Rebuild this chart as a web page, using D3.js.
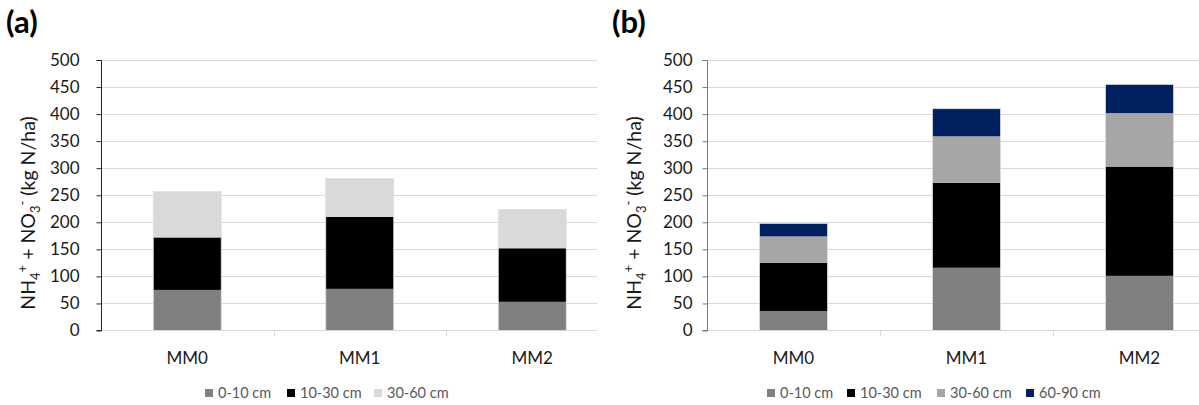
<!DOCTYPE html>
<html>
<head>
<meta charset="utf-8">
<script src="https://cdn.jsdelivr.net/npm/d3@7"></script>
<style>
  body { margin: 0; background: #fff; }
  svg { display: block; font-family: Lato, "Liberation Sans", sans-serif; }
</style>
</head>
<body>
<div class="chart-box"></div>
<script>
// ---------------------------//
//            DATA            //
// ---------------------------//
const categories = ["MM0", "MM1", "MM2"];
const yTicks = [0, 50, 100, 150, 200, 250, 300, 350, 400, 450, 500];

// panel (a)
const layersA = ["0-10 cm", "10-30 cm", "30-60 cm"];
const depth0_10_A  = [75, 77, 53];
const depth10_30_A = [97, 133, 99];
const depth30_60_A = [85, 71, 72];

// panel (b)
const layersB = ["0-10 cm", "10-30 cm", "30-60 cm", "60-90 cm"];
const depth0_10_B  = [36, 116, 101];
const depth10_30_B = [89, 157, 202];
const depth30_60_B = [49, 86, 99];
const depth60_90_B = [24, 51, 53];

const WIDTH = 1199, HEIGHT = 405;

const svg = d3.select(".chart-box").append("svg")
    .attr("width", WIDTH)
    .attr("height", HEIGHT);

const rows = (layers, series) => categories.map((c, i) => {
    let r = {cat: c};
    layers.forEach((l, j) => r[l] = series[j][i]);
    return r;
});

// ---------------------------//
//         DRAW PANEL         //
// ---------------------------//
var drawPanel = function(opt)
{
    const g = svg.append("g");

    const y = d3.scaleLinear().domain([0, 500]).range([330.5, 60]);
    const x = d3.scaleBand()
        .domain(categories)
        .range([opt.axisX, opt.axisX + 3 * opt.step])
        .paddingInner(0.606)
        .paddingOuter(0.303);

    // clip so grid stops where the panel stops
    const clipId = "clip" + opt.label.replace(/\W/g, "");
    svg.append("clipPath").attr("id", clipId)
        .append("rect")
        .attr("x", opt.axisX).attr("y", 0)
        .attr("width", opt.rightEdge - opt.axisX).attr("height", HEIGHT);

    const plot = g.append("g").attr("clip-path", `url(#${clipId})`);

    // gridlines
    plot.selectAll(".grid")
        .data(yTicks.filter(d => d > 0))
        .enter().append("line")
        .attr("x1", opt.axisX).attr("x2", opt.axisX + 3 * opt.step)
        .attr("y1", d => Math.round(y(d)) + 0.5)
        .attr("y2", d => Math.round(y(d)) + 0.5)
        .attr("stroke", "#d9d9d9")
        .attr("stroke-width", 1);

    // x baseline + category separators
    plot.append("line")
        .attr("x1", opt.axisX).attr("x2", opt.axisX + 3 * opt.step)
        .attr("y1", 330.5).attr("y2", 330.5)
        .attr("stroke", "#d9d9d9");
    plot.selectAll(".sep")
        .data([1, 2, 3])
        .enter().append("line")
        .attr("x1", d => Math.round(opt.axisX + d * opt.step) + 0.5)
        .attr("x2", d => Math.round(opt.axisX + d * opt.step) + 0.5)
        .attr("y1", 330.5).attr("y2", 336)
        .attr("stroke", "#d9d9d9");

    // stacked bars
    const stack = d3.stack().keys(opt.layers)(opt.data);
    const color = d3.scaleOrdinal().domain(opt.layers).range(opt.colors);

    plot.selectAll(".layer")
        .data(stack)
        .enter().append("g")
        .attr("fill", d => color(d.key))
        .selectAll("rect")
        .data(d => d)
        .enter().append("rect")
        .attr("x", d => x(d.data.cat))
        .attr("width", x.bandwidth())
        .attr("y", d => y(d[1]))
        .attr("height", d => y(d[0]) - y(d[1]));

    // faint bar outline
    plot.selectAll(".outline")
        .data(opt.data)
        .enter().append("rect")
        .attr("x", d => x(d.cat))
        .attr("width", x.bandwidth())
        .attr("y", d => y(d3.sum(opt.layers, k => d[k])))
        .attr("height", d => 330.5 - y(d3.sum(opt.layers, k => d[k])))
        .attr("fill", "none")
        .attr("stroke", "#e0e0e0")
        .attr("stroke-width", 0.8);

    // y axis
    const yAxis = g.append("g")
        .attr("transform", `translate(${opt.axisX + 0.5},0)`)
        .call(d3.axisLeft(y).tickValues(yTicks).tickSize(5).tickPadding(opt.tickPad));
    yAxis.select(".domain").attr("stroke", opt.axisColor).attr("d", "M-5,60.5H0V330.5H-5");
    yAxis.selectAll(".tick line").attr("stroke", opt.axisColor);
    yAxis.selectAll(".tick text")
        .attr("fill", "#1a1a1a")
        .style("font-size", "17px")
        .style("font-family", "Lato, sans-serif");

    // category labels
    g.selectAll(".cat")
        .data(categories)
        .enter().append("text")
        .attr("x", d => x(d) + x.bandwidth() / 2)
        .attr("y", 364)
        .attr("text-anchor", "middle")
        .attr("fill", "#1a1a1a")
        .style("font-size", "17px")
        .text(d => d);

    // y axis title
    const t = g.append("text")
        .attr("transform", `translate(${opt.titleX},213) rotate(-90)`)
        .attr("text-anchor", "middle")
        .attr("fill", "#1a1a1a")
        .style("font-size", "19.5px");
    t.append("tspan").text("NH");
    t.append("tspan").text("4").attr("dy", 5).style("font-size", "13px");
    t.append("tspan").text("+").attr("dy", -13).style("font-size", "13px");
    t.append("tspan").text(" + NO").attr("dy", 8);
    t.append("tspan").text("3").attr("dy", 5).style("font-size", "13px");
    t.append("tspan").text("-").attr("dy", -13).style("font-size", "13px");
    t.append("tspan").text(" (kg N/ha)").attr("dy", 8);

    // panel label
    g.append("text")
        .attr("x", opt.labelX).attr("y", 33)
        .style("font-size", "31px")
        .style("font-weight", "bold")
        .attr("fill", "#000")
        .text(opt.label);

    // legend
    const leg = g.selectAll(".leg")
        .data(opt.layers)
        .enter().append("g")
        .attr("transform", (d, i) => `translate(${opt.legendX[i]},393)`);
    leg.append("rect")
        .attr("x", 0).attr("y", -4)
        .attr("width", 8).attr("height", 8)
        .attr("fill", d => color(d));
    leg.append("text")
        .attr("x", 13).attr("y", 0)
        .attr("dy", "0.35em")
        .attr("fill", "#595959")
        .style("font-size", "14.5px")
        .text(d => d);
}

drawPanel({
    label: "(a)", labelX: 6,
    axisX: 101, step: 172.5, rightEdge: 597,
    axisColor: "#262626", tickPad: 17, titleX: 35,
    layers: layersA,
    data: rows(layersA, [depth0_10_A, depth10_30_A, depth30_60_A]),
    colors: ["#808080", "#000000", "#d9d9d9"],
    legendX: [205, 287, 374]
});

drawPanel({
    label: "(b)", labelX: 612,
    axisX: 707, step: 173, rightEdge: 1199,
    axisColor: "#7a7a7a", tickPad: 10, titleX: 641,
    layers: layersB,
    data: rows(layersB, [depth0_10_B, depth10_30_B, depth30_60_B, depth60_90_B]),
    colors: ["#808080", "#000000", "#a6a6a6", "#002060"],
    legendX: [767, 847, 937, 1026]
});
</script>
</body>
</html>
